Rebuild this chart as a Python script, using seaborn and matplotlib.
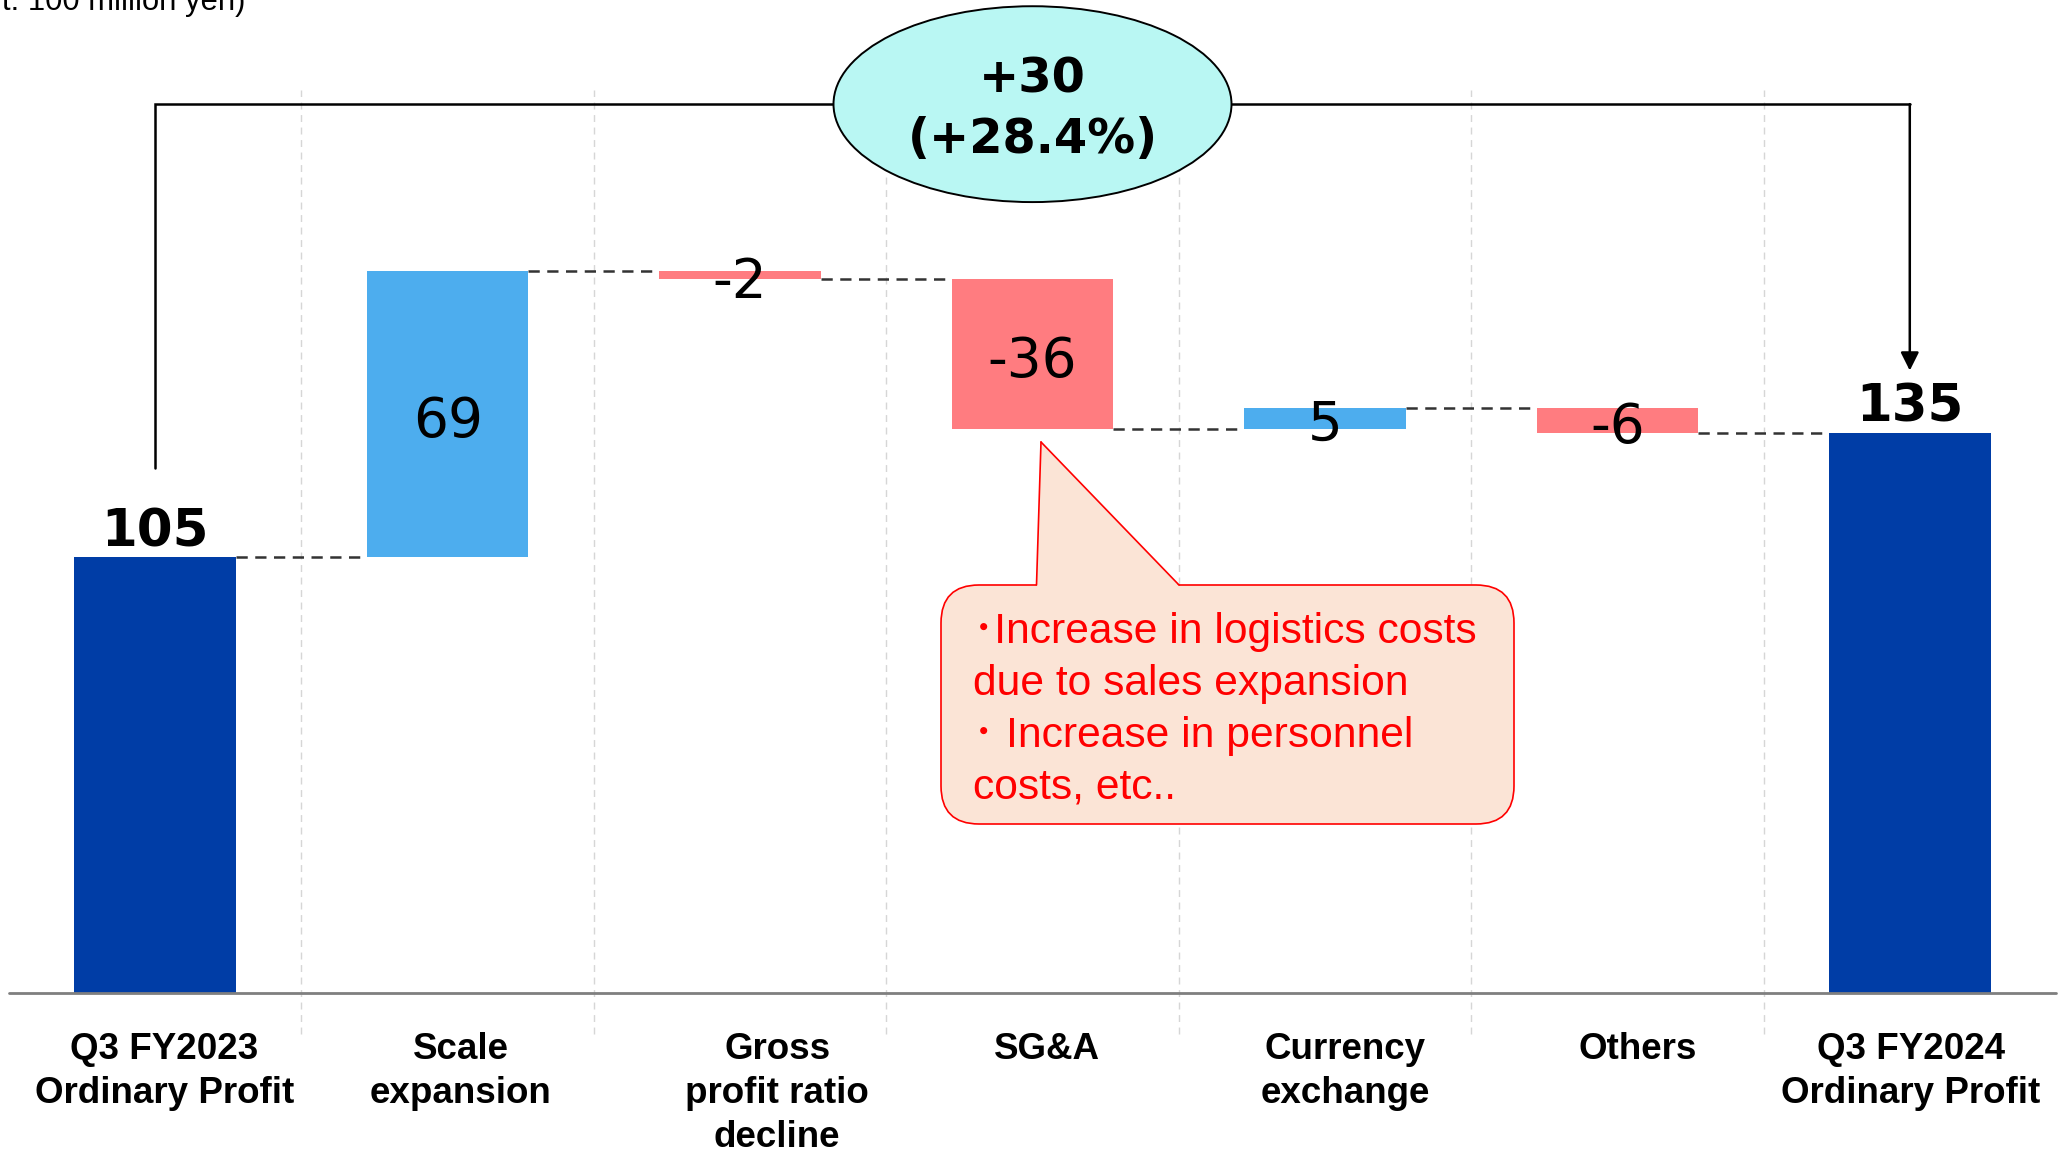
import matplotlib
matplotlib.use("Agg")
import matplotlib.pyplot as plt
import numpy as np
import pandas as pd
import seaborn as sns
from matplotlib.patches import Ellipse, FancyBboxPatch, Polygon
from matplotlib.transforms import ScaledTranslation
from matplotlib.lines import Line2D

# ---- data -------------------------------------------------------------
categories = [
    "Q3 FY2023\nOrdinary Profit",
    "Scale\nexpansion",
    "Gross\nprofit ratio\ndecline",
    "SG&A",
    "Currency\nexchange",
    "Others",
    "Q3 FY2024\nOrdinary Profit",
]
changes = [105, 69, -2, -36, 5, -6, 135]
is_total = [True, False, False, False, False, False, True]
total_change = "+30"
total_change_pct = "(+28.4%)"
unit_label = "(Unit: 100 million yen)"
note_lines = [
    "\uff65Increase in logistics costs",
    "due to sales expansion",
    "\uff65 Increase in personnel",
    "costs, etc..",
]

# ---- style ------------------------------------------------------------
sns.set_style("white")
plt.rcParams["font.family"] = ["DejaVu Sans"]
plt.rcParams["text.color"] = "black"
plt.rcParams["xtick.color"] = "black"
plt.rcParams["xtick.labelcolor"] = "black"

C_TOTAL = "#003DA6"
C_UP = "#4DADEE"
C_DOWN = "#FF7C80"
C_OVAL = "#B9F7F3"
C_NOTE_FILL = "#FBE4D6"
C_NOTE = "#FF0000"

W, H, DPI = 2067, 1152, 100
fig = plt.figure(figsize=(W / DPI, H / DPI), dpi=DPI)
ax = fig.add_axes([9 / W, (H - 993) / H, 2047 / W, 993 / H])

# running levels of the waterfall
bottoms, levels = [], []
level = 0
for v, tot in zip(changes, is_total):
    if tot:
        bottoms.append(0)
        level = v
    else:
        bottoms.append(level)
        level += v
    levels.append(level)

df = pd.DataFrame({"item": categories, "change": changes})
bar_w = 0.553
sns.barplot(data=df, x="item", y="change", order=categories, bottom=bottoms,
            width=bar_w, color=C_UP, saturation=1, errorbar=None,
            linewidth=0, ax=ax, zorder=3)
for patch, v, tot in zip(ax.patches, changes, is_total):
    patch.set_facecolor(C_TOTAL if tot else (C_UP if v > 0 else C_DOWN))
    patch.set_edgecolor("none")

ax.set_xlim(-0.5, len(categories) - 0.5)
ax.set_ylim(0, 239.3)
for s in ax.spines.values():
    s.set_visible(False)
ax.set_xlabel("")
ax.set_ylabel("")
ax.set_yticks([])

# baseline
ax.axhline(0, color="#7F7F7F", lw=2.0, zorder=4, clip_on=False)

# light dashed separators between categories
for i in range(len(categories) - 1):
    ax.add_line(Line2D([i + 0.5, i + 0.5], [-10, 217.6], color="#D6D6D6",
                       lw=1.0, ls=(0, (5, 4)), zorder=1, clip_on=False))

# dashed connectors between consecutive bars
for i in range(len(categories) - 1):
    ax.plot([i + bar_w / 2, i + 1 - bar_w / 2], [levels[i], levels[i]],
            color="#333333", lw=1.8, ls=(0, (4.5, 3)), zorder=2)

# value labels
down = ScaledTranslation(0, -8 / DPI, fig.dpi_scale_trans)
for i, (v, b, tot) in enumerate(zip(changes, bottoms, is_total)):
    if tot:
        ax.text(i, v, f"{v}", ha="center", va="bottom", fontsize=37,
                fontweight="bold", color="black", zorder=6)
    else:
        ax.text(i, b + v / 2, f"{v}", ha="center", va="center", fontsize=39.5,
                color="black", zorder=6, transform=ax.transData + down)

# x tick labels
ax.set_xticks(range(len(categories)))
ax.set_xticklabels(categories, fontsize=26.5, fontweight="bold", color="black",
                   family=["Liberation Sans", "DejaVu Sans"], linespacing=1.33)
ax.tick_params(axis="x", length=0, pad=28)
x_shift = [9, 13, 37, 14, 20, 20, 1]
for lab, dx in zip(ax.get_xticklabels(), x_shift):
    lab.set_transform(lab.get_transform() + ScaledTranslation(dx / DPI, 0, fig.dpi_scale_trans))

# bracket showing the overall change
first, last = 0, len(categories) - 1
top_y = 214.2
ax.plot([first, first, last], [126.5, top_y, top_y], color="black", lw=1.8,
        solid_joinstyle="miter", zorder=5, clip_on=False)
ax.annotate("", xy=(last, 150.0), xytext=(last, top_y),
            arrowprops=dict(arrowstyle="-|>,head_length=1.1,head_width=0.55",
                            lw=1.8, color="black", shrinkA=0, shrinkB=0),
            zorder=5)
oval = Ellipse((3, top_y), width=1.361, height=47.2, facecolor=C_OVAL,
               edgecolor="black", lw=1.4, zorder=6, clip_on=False)
ax.add_patch(oval)
ax.text(3, 217.1, total_change, ha="center", va="baseline", fontsize=34.5,
        fontweight="bold", color="black", zorder=7)
ax.text(3, 202.4, total_change_pct, ha="center", va="baseline", fontsize=34.5,
        fontweight="bold", color="black", zorder=7)

# callout box for SG&A
inch = fig.dpi_scale_trans


def px(x, y_top):
    return (x / DPI, (H - y_top) / DPI)


bx0, bx1, by_top, by_bot = 941, 1514, 585, 824
box = FancyBboxPatch(px(bx0, by_bot), (bx1 - bx0) / DPI, (by_bot - by_top) / DPI,
                     boxstyle="round,pad=0,rounding_size=0.38",
                     facecolor=C_NOTE_FILL, edgecolor=C_NOTE, lw=1.2,
                     transform=inch, zorder=8)
fig.add_artist(box)
tip, bl, br = (1041, 442), (1036.5, 585), (1179, 585)
tri = Polygon([px(*tip), px(bl[0] + 0.1, 589), px(br[0] + 3, 589)], closed=True,
              facecolor=C_NOTE_FILL, edgecolor="none", transform=inch, zorder=9)
fig.add_artist(tri)
for p in (bl, br):
    fig.add_artist(Line2D([px(*tip)[0], px(*p)[0]], [px(*tip)[1], px(*p)[1]],
                          color=C_NOTE, lw=1.2, transform=inch, zorder=10))
note_x = [973, 973, 973, 973]
note_base = [643, 695, 747, 798]
for txt, x, yb in zip(note_lines, note_x, note_base):
    fig.text(x / W, (H - yb) / H, txt, ha="left", va="baseline", fontsize=30.7,
             color=C_NOTE, family=["Liberation Sans", "Noto Sans CJK JP"], zorder=11)

# unit note at the top-left
fig.text(245 / W, 1 - 10 / H, unit_label, ha="right", va="baseline",
         fontsize=22.3, family=["Liberation Sans", "DejaVu Sans"], color="black")

fig.savefig("out.png", dpi=DPI, facecolor="white")
